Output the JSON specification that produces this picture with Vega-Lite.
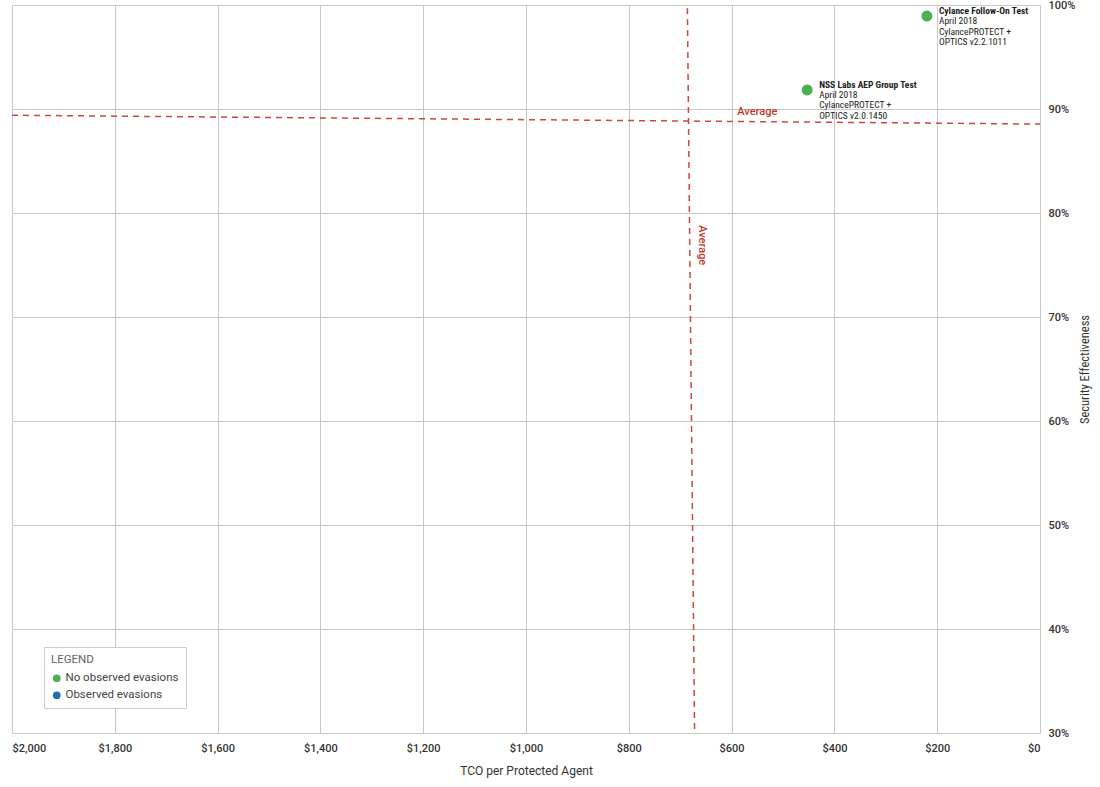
{
  "$schema": "https://vega.github.io/schema/vega-lite/v6.json",
  "width": 1028,
  "height": 728,
  "autosize": {"type": "none"},
  "padding": {"left": 12, "top": 5, "right": 60, "bottom": 54},
  "background": "white",
  "config": {
    "font": "Roboto",
    "view": {"stroke": null},
    "axis": {
      "gridColor": "#c8c8c8",
      "gridWidth": 1,
      "domainColor": "#c8c8c8",
      "ticks": false,
      "labelFont": "Roboto",
      "labelFontSize": 11,
      "labelFontWeight": 500,
      "labelColor": "#333",
      "titleFont": "Roboto",
      "titleFontSize": 12,
      "titleFontWeight": "normal",
      "titleColor": "#333"
    }
  },
  "datasets": {
    "tests": [
      {"test": "Cylance Follow-On Test", "detail": "April 2018\nCylancePROTECT +\nOPTICS v2.2.1011", "tco": 220, "se": 98.94, "status": "No observed evasions"},
      {"test": "NSS Labs AEP Group Test", "detail": "April 2018\nCylancePROTECT +\nOPTICS v2.0.1450", "tco": 453, "se": 91.83, "status": "No observed evasions"}
    ],
    "avg": [
      {"line": "h", "tco": 2000, "se": 89.4},
      {"line": "h", "tco": 0, "se": 88.55},
      {"line": "v", "tco": 686, "se": 99.7},
      {"line": "v", "tco": 672, "se": 30}
    ],
    "avgLabels": [
      {"label": "Average", "tco": 550, "se": 89.7, "orient": "h"},
      {"label": "Average", "tco": 658, "se": 76.9, "orient": "v"}
    ]
  },
  "layer": [
    {
      "data": {"name": "avg"},
      "mark": {"type": "line", "color": "#c9483a", "strokeWidth": 1.5, "strokeDash": [6, 5]},
      "encoding": {
        "x": {
          "field": "tco", "type": "quantitative",
          "scale": {"domain": [0, 2000], "reverse": true, "nice": false, "zero": false},
          "axis": {
            "values": [0, 200, 400, 600, 800, 1000, 1200, 1400, 1600, 1800, 2000],
            "format": "$,.0f",
            "title": "TCO per Protected Agent",
            "labelPadding": 9,
            "titlePadding": 12,
            "domain": false
          }
        },
        "y": {
          "field": "se", "type": "quantitative",
          "scale": {"domain": [30, 100], "nice": false, "zero": false},
          "axis": {
            "orient": "right",
            "values": [30, 40, 50, 60, 70, 80, 90, 100],
            "labelExpr": "datum.value + '%'",
            "title": "Security Effectiveness",
            "titleAngle": 270,
            "titleFont": "Roboto Condensed, Roboto",
            "titleFontSize": 12.5,
            "titleFontWeight": "normal",
            "labelPadding": 8,
            "titlePadding": 17,
            "domain": true
          }
        },
        "detail": {"field": "line"}
      }
    },
    {
      "data": {"name": "avgLabels"},
      "transform": [{"filter": "datum.orient == 'h'"}],
      "mark": {"type": "text", "color": "#c0392b", "fontSize": 11, "fontWeight": 500, "align": "center", "baseline": "middle"},
      "encoding": {
        "x": {"field": "tco", "type": "quantitative"},
        "y": {"field": "se", "type": "quantitative"},
        "text": {"field": "label"}
      }
    },
    {
      "data": {"name": "avgLabels"},
      "transform": [{"filter": "datum.orient == 'v'"}],
      "mark": {"type": "text", "color": "#c0392b", "fontSize": 11, "fontWeight": 500, "align": "center", "baseline": "middle", "angle": 90},
      "encoding": {
        "x": {"field": "tco", "type": "quantitative"},
        "y": {"field": "se", "type": "quantitative"},
        "text": {"field": "label"}
      }
    },
    {
      "data": {"name": "tests"},
      "mark": {"type": "point", "filled": true, "opacity": 1, "size": 120, "shape": "circle"},
      "encoding": {
        "x": {"field": "tco", "type": "quantitative"},
        "y": {"field": "se", "type": "quantitative"},
        "color": {
          "field": "status", "type": "nominal",
          "scale": {"domain": ["No observed evasions", "Observed evasions"], "range": ["#4caf50", "#1f6fb2"]},
          "legend": {
            "title": "LEGEND",
            "orient": "none",
            "legendX": 32,
            "legendY": 642,
            "padding": 7,
            "strokeColor": "#ccc",
            "fillColor": "white",
            "titleFont": "Roboto",
            "titleFontWeight": "normal",
            "titleColor": "#666",
            "titleFontSize": 11.5,
            "titlePadding": 7,
            "labelFont": "Roboto",
            "labelFontSize": 11.5,
            "labelColor": "#444",
            "symbolSize": 60,
            "symbolType": "circle",
            "rowPadding": 4,
            "labelOffset": 3
          }
        }
      }
    },
    {
      "data": {"name": "tests"},
      "mark": {"type": "text", "align": "left", "baseline": "top", "dx": 12, "dy": -10, "fontSize": 9.5, "fontWeight": "bold", "font": "Roboto Condensed, Liberation Sans Narrow, Roboto", "color": "#222"},
      "encoding": {
        "x": {"field": "tco", "type": "quantitative"},
        "y": {"field": "se", "type": "quantitative"},
        "text": {"field": "test"}
      }
    },
    {
      "data": {"name": "tests"},
      "mark": {"type": "text", "align": "left", "baseline": "top", "dx": 12, "dy": 0, "fontSize": 9.5, "lineBreak": "\n", "lineHeight": 10.5, "font": "Roboto Condensed, Liberation Sans Narrow, Roboto", "color": "#222"},
      "encoding": {
        "x": {"field": "tco", "type": "quantitative"},
        "y": {"field": "se", "type": "quantitative"},
        "text": {"field": "detail"}
      }
    }
  ]
}
